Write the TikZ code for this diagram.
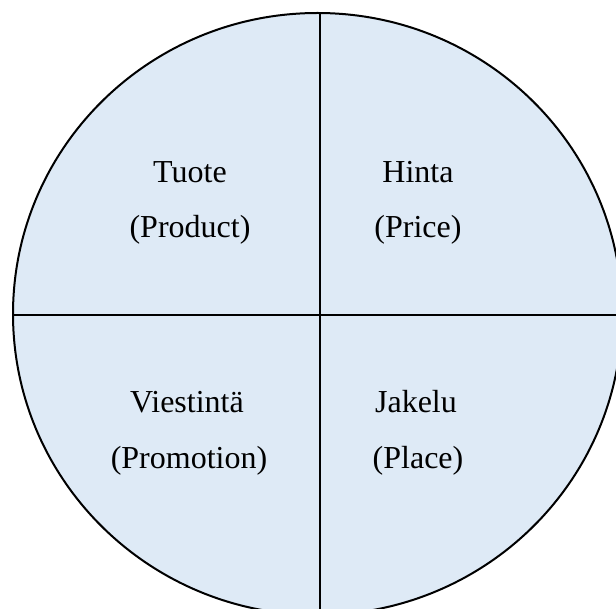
\documentclass[tikz,border=0pt]{standalone}
\usepackage{fontspec}
\setmainfont{Liberation Serif}
\definecolor{quadfill}{RGB}{222,234,246}
\begin{document}
\begin{tikzpicture}[x=1pt,y=-1pt,
  lbl/.style={anchor=base,inner sep=0pt,font=\fontsize{32}{38}\selectfont}]
\useasboundingbox (0,0) rectangle (616,609);
\begin{scope}
\clip (0,0) rectangle (616,609);
\draw[line width=2pt,fill=quadfill] (317.5,314) ellipse [x radius=304.5, y radius=301];
\draw[line width=1.6pt] (320,13) -- (320,612);
\draw[line width=1.2pt] (13,315) -- (620,315);
\end{scope}
\node[lbl] (tuote) at (190,183) {Tuote};
\node[lbl] (product) at (190,238) {(Product)};
\node[lbl] (hinta) at (418,183) {Hinta};
\node[lbl] (price) at (418,238) {(Price)};
\node[lbl] (viestinta) at (187,413) {Viestintä};
\node[lbl] (promotion) at (189,468) {(Promotion)};
\node[lbl] (jakelu) at (416,413) {Jakelu};
\node[lbl] (place) at (418,468) {(Place)};
\end{tikzpicture}
\end{document}
